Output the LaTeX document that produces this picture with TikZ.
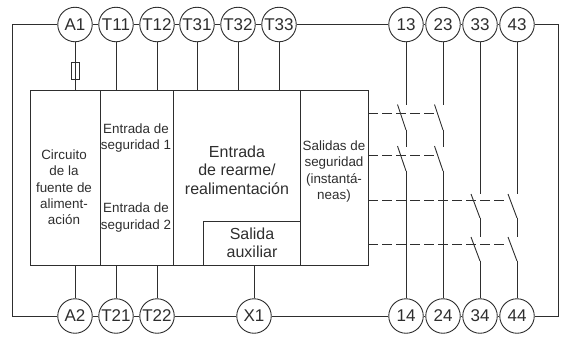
\documentclass[tikz,border=0pt]{standalone}
\usepackage{fontspec}
\setmainfont{Liberation Sans}
\definecolor{ink}{HTML}{2E2E2E}
\tikzset{
  x=1pt,y=-1pt,
  wire/.style={draw=ink,line width=0.9pt},
  dashline/.style={draw=ink,line width=0.9pt,dash pattern=on 9.5pt off 4.5pt},
  term/.style={circle,draw=ink,fill=white,line width=0.9pt,minimum size=34.5pt,inner sep=0pt,text=ink,font=\fontsize{17}{17}\selectfont},
  small/.style={align=center,inner sep=0pt,text=ink,font=\fontsize{13.4}{16.3}\selectfont},
  big/.style={align=center,inner sep=0pt,text=ink,font=\fontsize{16}{18.5}\selectfont},
  blockbox/.style={draw=ink,line width=0.9pt,fill=none,inner sep=0pt,anchor=north west},
}
\begin{document}
\begin{tikzpicture}
\useasboundingbox (0,0) rectangle (561,338);
\coordinate (tl) at (12,24.5);
\coordinate (bl) at (12,316);
\coordinate (tr) at (558,24.5);
\coordinate (br) at (558,316);
\node[blockbox,minimum width=70pt,minimum height=175pt] (power) at (30,90) {};
\node[blockbox,minimum width=73pt,minimum height=175pt] (safe) at (100,90) {};
\node[blockbox,minimum width=127pt,minimum height=175pt] (reset) at (173,90) {};
\node[blockbox,minimum width=68pt,minimum height=175pt] (out) at (300,90) {};
\node[blockbox,minimum width=97pt,minimum height=44pt] (aux) at (203,221) {};
\coordinate (a1w) at (75,90);
\coordinate (t11w) at (116,90);
\coordinate (t12w) at (157,90);
\coordinate (t31w) at (197,90);
\coordinate (t32w) at (238,90);
\coordinate (t33w) at (279,90);
\coordinate (a2w) at (75,265);
\coordinate (t21w) at (116,265);
\coordinate (t22w) at (157,265);
\coordinate (x1w) at (254,265);
\node[term] (A1) at (75,24.5) {A1};
\node[term] (T11) at (116,24.5) {T11};
\node[term] (T12) at (157,24.5) {T12};
\node[term] (T31) at (197,24.5) {T31};
\node[term] (T32) at (238,24.5) {T32};
\node[term] (T33) at (279,24.5) {T33};
\node[term] (n13) at (406,24.5) {13};
\node[term] (n23) at (443,24.5) {23};
\node[term] (n33) at (480,24.5) {33};
\node[term] (n43) at (517,24.5) {43};
\node[term] (A2) at (75,316) {A2};
\node[term] (T21) at (116,316) {T21};
\node[term] (T22) at (157,316) {T22};
\node[term] (X1) at (254,316) {X1};
\node[term] (n14) at (406,316) {14};
\node[term] (n24) at (443,316) {24};
\node[term] (n34) at (480,316) {34};
\node[term] (n44) at (517,316) {44};
\draw[wire] (A1) -- (tl) -- (bl) -- (A2);
\draw[wire] (A1) -- (T11);
\draw[wire] (T11) -- (T12);
\draw[wire] (T12) -- (T31);
\draw[wire] (T31) -- (T32);
\draw[wire] (T32) -- (T33);
\draw[wire] (T33) -- (n13);
\draw[wire] (n13) -- (n23);
\draw[wire] (n23) -- (n33);
\draw[wire] (n33) -- (n43);
\draw[wire] (n43) -- (tr) -- (br) -- (n44);
\draw[wire] (A2) -- (T21);
\draw[wire] (T21) -- (T22);
\draw[wire] (T22) -- (X1);
\draw[wire] (X1) -- (n14);
\draw[wire] (n14) -- (n24);
\draw[wire] (n24) -- (n34);
\draw[wire] (n34) -- (n44);
\draw[wire] (A1) -- (a1w);
\draw[wire] (T11) -- (t11w);
\draw[wire] (T12) -- (t12w);
\draw[wire] (T31) -- (t31w);
\draw[wire] (T32) -- (t32w);
\draw[wire] (T33) -- (t33w);
\draw[wire] (A2) -- (a2w);
\draw[wire] (T21) -- (t21w);
\draw[wire] (T22) -- (t22w);
\draw[wire] (X1) -- (x1w);
\node[draw=ink,line width=0.9pt,fill=none,minimum width=7.5pt,minimum height=16.5pt,inner sep=0pt] (fuse) at (75.5,71) {};
\coordinate (c13a) at (406,105); \coordinate (c13b) at (406,130);
\coordinate (c13c) at (406,146.5); \coordinate (c13d) at (406,171);
\coordinate (c23a) at (443,105); \coordinate (c23b) at (443,130);
\coordinate (c23c) at (443,146.5); \coordinate (c23d) at (443,171);
\coordinate (c33a) at (480,193.5); \coordinate (c33b) at (480,218);
\coordinate (c33c) at (480,237); \coordinate (c33d) at (480,261);
\coordinate (c43a) at (517,193.5); \coordinate (c43b) at (517,218);
\coordinate (c43c) at (517,237); \coordinate (c43d) at (517,261);
\draw[wire] (n13) -- (c13a);
\draw[wire] (c13b) -- (c13c);
\draw[wire] (c13d) -- (n14);
\draw[wire] (n23) -- (c23a);
\draw[wire] (c23b) -- (c23c);
\draw[wire] (c23d) -- (n24);
\draw[wire] (n33) -- (c33a);
\draw[wire] (c33b) -- (c33c);
\draw[wire] (c33d) -- (n34);
\draw[wire] (n43) -- (c43a);
\draw[wire] (c43b) -- (c43c);
\draw[wire] (c43d) -- (n44);
\draw[wire] (397.5,104.5) -- (c13b);
\draw[wire] (397.5,146) -- (c13d);
\draw[wire] (434.5,104.5) -- (c23b);
\draw[wire] (434.5,146) -- (c23d);
\draw[wire] (471,194) -- (c33b);
\draw[wire] (471,237) -- (c33d);
\draw[wire] (508,194) -- (c43b);
\draw[wire] (508,237) -- (c43d);
\coordinate (d1) at (436,113.3);
\coordinate (d2) at (436,155.5);
\coordinate (d3) at (508,200);
\coordinate (d4) at (508,244.5);
\draw[dashline] (368,113.3) -- (d1);
\draw[dashline] (368,155.5) -- (d2);
\draw[dashline] (368,200) -- (d3);
\draw[dashline] (368,244.5) -- (d4);
\node[small] (tpower) at (64,187.5) {Circuito\\de la\\fuente de\\aliment-\\ación};
\node[small] (ts1) at (136,138) {Entrada de\\seguridad 1};
\node[small] (ts2) at (136,217.5) {Entrada de\\seguridad 2};
\node[big] (treset) at (237,170) {Entrada\\de rearme/\\realimentación};
\node[big] (taux) at (252,243) {Salida\\auxiliar};
\node[small] (tout) at (334,171.5) {Salidas de\\seguridad\\(instantá-\\neas)};
\end{tikzpicture}
\end{document}
